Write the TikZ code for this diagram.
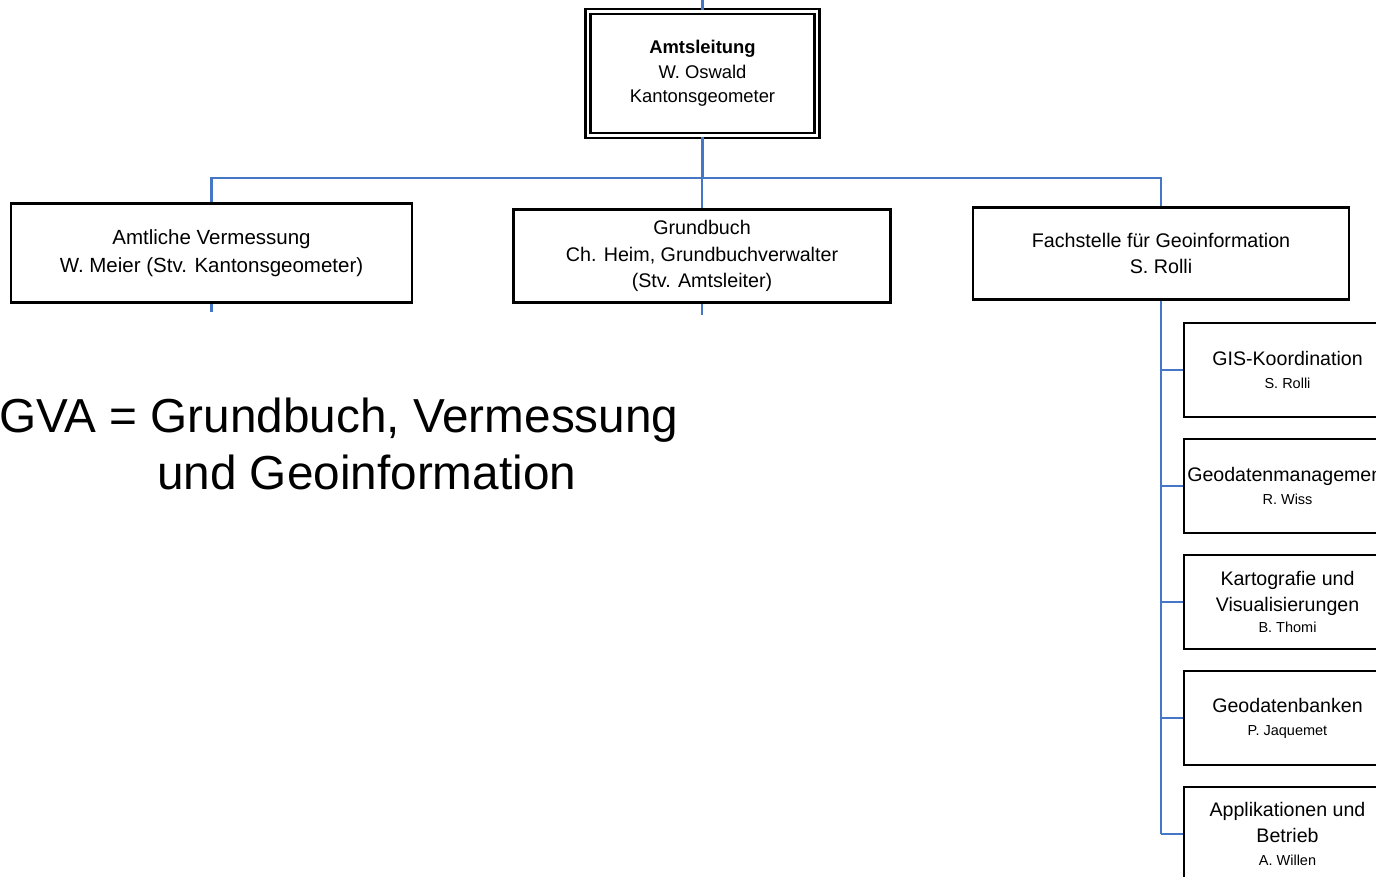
\documentclass[tikz,border=0pt]{standalone}
\usepackage{fontspec}
\setmainfont{Liberation Sans}
\definecolor{conn}{RGB}{70,118,198}
\newcommand\nm[1]{{\fontsize{14.5}{17}\selectfont #1}}
\begin{document}
\begin{tikzpicture}[x=1pt,y=-1pt,
  box/.style={draw=black,line width=2.3pt,inner sep=0pt,align=center,font=\fontsize{19.7}{26.5}\selectfont},
  sub/.style={box,minimum width=207pt,minimum height=94pt,font=\fontsize{19.6}{26}\selectfont},
  link/.style={draw=conn,line width=2.2pt},
  big/.style={inner sep=0pt,font=\fontsize{47.7}{57}\selectfont}]
\useasboundingbox (0,0) rectangle (1376,877);
\clip (0,0) rectangle (1376,877);

% top box
\node[box,double,double distance=2.4pt,line width=2.6pt,minimum width=229pt,minimum height=124pt,
      font=\fontsize{18.4}{24.5}\selectfont] (amt) at (702.5,73.5)
  {\textbf{Amtsleitung}\\W. Oswald\\Kantonsgeometer};

% second level
\node[box,minimum width=401pt,minimum height=99pt,font=\fontsize{20.5}{28}\selectfont] (av) at (211.5,253)
  {Amtliche Vermessung\\W. Meier (Stv. Kantonsgeometer)};
\node[box,minimum width=377pt,minimum height=93pt] (gb) at (702,256)
  {Grundbuch\\Ch. Heim, Grundbuchverwalter\\(Stv. Amtsleiter)};
\node[box,minimum width=376pt,minimum height=92pt] (fg) at (1161,253.5)
  {Fachstelle für Geoinformation\\S. Rolli};

% right column
\node[sub] (r1) at (1287.5,370) {GIS-Koordination\\[-3pt]\nm{S. Rolli}};
\node[sub] (r2) at (1287.5,486) {Geodatenmanagement\\[-3pt]\nm{R. Wiss}};
\node[sub] (r3) at (1287.5,602) {Kartografie und\\Visualisierungen\\[-5pt]\nm{B. Thomi}};
\node[sub] (r4) at (1287.5,718) {Geodatenbanken\\[-3pt]\nm{P. Jaquemet}};
\node[sub] (r5) at (1287.5,834) {Applikationen und\\Betrieb\\[-3pt]\nm{A. Willen}};

% big caption
\node[big,anchor=base west] (gva1) at (-1,432) {GVA = Grundbuch, Vermessung};
\node[big,anchor=base west] (gva2) at (157,489) {und Geoinformation};

% connectors
\coordinate (top) at (702.5,0);
\coordinate (bus) at (702.5,178);
\coordinate (avs) at (211.5,312);
\coordinate (gbs) at (702,315);
\draw[link] (top) -- (amt.north);
\draw[link] (amt.south) -- (bus);
\draw[link] (av.north) |- (bus) -| (fg.north);
\draw[link] (gb.north) -- (gb.north |- bus);
\draw[link] (av.south) -- (avs);
\draw[link] (gb.south) -- (gbs);
\draw[link] (fg.south) -- (fg.south |- r5.west);
\foreach \i in {1,...,5}
  \draw[link] (fg.south |- r\i.west) -- (r\i.west);
\end{tikzpicture}
\end{document}
